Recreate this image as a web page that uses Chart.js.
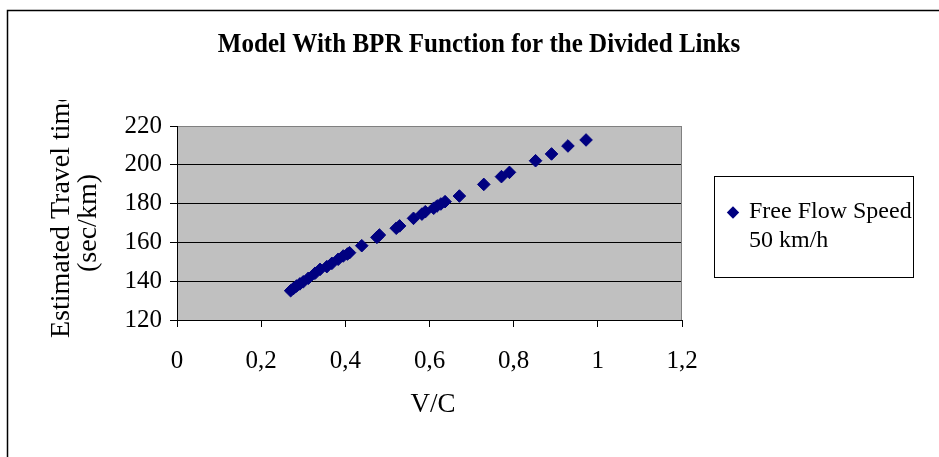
<!DOCTYPE html>
<html>
<head>
<meta charset="utf-8">
<script src="https://cdn.jsdelivr.net/npm/chart.js@4"></script>
<style>
html,body{margin:0;padding:0;background:#fff;}
canvas{display:block;}
</style>
</head>
<body>
<canvas id="c" width="939" height="457"></canvas>
<script>
const chartTitle = 'Model With BPR Function for the Divided Links';
const seriesName = ['Free Flow Speed', '50 km/h'];
const yTitle = ['Estimated Travel time', '(sec/km)'];
const xTitle = 'V/C';
const xTickLabels = ['0', '0,2', '0,4', '0,6', '0,8', '1', '1,2'];
const yTickLabels = ['120', '140', '160', '180', '200', '220'];
const vcValues = [0.270, 0.277, 0.284, 0.292, 0.300, 0.312, 0.328, 0.340, 0.356, 0.368, 0.383, 0.395, 0.405, 0.410, 0.439, 0.475, 0.481, 0.521, 0.529, 0.562, 0.582, 0.590, 0.610, 0.618, 0.627, 0.637, 0.671, 0.729, 0.771, 0.790, 0.852, 0.890, 0.929, 0.972];
const travelTimes = [135.1, 136.3, 137.5, 138.6, 139.7, 141.5, 144.1, 146.1, 147.5, 149.2, 151.3, 153.0, 154.0, 154.7, 158.3, 162.6, 163.8, 167.3, 168.5, 172.4, 174.6, 175.8, 177.6, 178.8, 179.8, 181.0, 183.9, 189.9, 193.9, 196.1, 202.1, 205.6, 209.7, 212.8];

const serif = '"Liberation Serif", "Times New Roman", serif';
const points = vcValues.map((v, i) => ({x: v, y: travelTimes[i]}));

const decor = {
  id: 'decor',
  beforeDraw(chart) {
    const {ctx, chartArea: a} = chart;
    ctx.save();
    ctx.fillStyle = '#fff';
    ctx.fillRect(0, 0, chart.width, chart.height);
    ctx.fillStyle = '#C0C0C0';
    ctx.fillRect(a.left, a.top, a.right - a.left, a.bottom - a.top);
    ctx.restore();
  },
  beforeDatasetsDraw(chart) {
    const {ctx, chartArea: a} = chart;
    ctx.save();
    ctx.strokeStyle = '#808080';
    ctx.lineWidth = 1;
    ctx.beginPath();
    ctx.moveTo(Math.round(a.right) - 0.5, a.top);
    ctx.lineTo(Math.round(a.right) - 0.5, a.bottom);
    ctx.stroke();
    ctx.restore();
  },
  afterDraw(chart) {
    const {ctx} = chart;
    ctx.save();
    // outer frame
    ctx.strokeStyle = '#000';
    ctx.lineWidth = 1.5;
    ctx.beginPath();
    ctx.moveTo(7.5, 457);
    ctx.lineTo(7.5, 10.5);
    ctx.lineTo(939, 10.5);
    ctx.stroke();
    // title (condensed bold)
    ctx.save();
    ctx.fillStyle = '#000';
    ctx.font = 'bold 28px ' + serif;
    ctx.textAlign = 'center';
    ctx.textBaseline = 'middle';
    ctx.translate(479, 45);
    ctx.scale(0.895, 1);
    ctx.fillText(chartTitle, 0, 0);
    ctx.restore();
    // x title
    ctx.fillStyle = '#000';
    ctx.textAlign = 'center';
    ctx.textBaseline = 'middle';
    ctx.font = '27px ' + serif;
    ctx.fillText(xTitle, 433, 405);
    // y title (first line clipped at top as in the original)
    ctx.save();
    ctx.beginPath();
    ctx.rect(0, 100, 170, 357);
    ctx.clip();
    ctx.translate(62, 338);
    ctx.rotate(-Math.PI / 2);
    ctx.textAlign = 'left';
    ctx.textBaseline = 'middle';
    ctx.font = '28px ' + serif;
    ctx.fillText(yTitle[0], 0, 0);
    ctx.restore();
    ctx.save();
    ctx.translate(89, 223);
    ctx.rotate(-Math.PI / 2);
    ctx.textAlign = 'center';
    ctx.textBaseline = 'middle';
    ctx.font = '28px ' + serif;
    ctx.fillText(yTitle[1], 0, 0);
    ctx.restore();
    // legend
    ctx.fillStyle = '#fff';
    ctx.fillRect(714.5, 176.5, 199, 101);
    ctx.strokeStyle = '#000';
    ctx.lineWidth = 1;
    ctx.strokeRect(714.5, 176.5, 199, 101);
    ctx.fillStyle = '#000080';
    ctx.beginPath();
    ctx.moveTo(733, 206.3); ctx.lineTo(739.2, 212.5); ctx.lineTo(733, 218.7); ctx.lineTo(726.8, 212.5); ctx.closePath();
    ctx.fill();
    ctx.fillStyle = '#000';
    ctx.font = '24px ' + serif;
    ctx.textAlign = 'left';
    ctx.textBaseline = 'middle';
    ctx.fillText(seriesName[0], 749, 212);
    ctx.fillText(seriesName[1], 749, 241);
    ctx.restore();
  }
};

new Chart(document.getElementById('c'), {
  type: 'scatter',
  data: {
    datasets: [{
      label: seriesName.join(' '),
      data: points,
      pointStyle: 'rectRot',
      pointRadius: 6.3,
      pointHoverRadius: 6.3,
      backgroundColor: '#000080',
      borderColor: '#000080',
      borderWidth: 1
    }]
  },
  options: {
    responsive: false,
    animation: false,
    events: [],
    layout: {padding: {left: 0, top: 126, right: 257, bottom: 0}},
    plugins: {legend: {display: false}, title: {display: false}, tooltip: {enabled: false}},
    scales: {
      x: {
        type: 'linear',
        min: 0, max: 1.2,
        afterFit(s) { s.height = 137; },
        afterBuildTicks(s) { s.ticks = xTickLabels.map((t, i) => ({value: i * 0.2})); },
        ticks: {
          color: '#000',
          font: {family: serif, size: 25},
          padding: 19,
          maxRotation: 0,
          autoSkip: false,
          callback: (v, i) => xTickLabels[i]
        },
        grid: {drawOnChartArea: false, drawTicks: true, tickLength: 7, tickColor: '#000'},
        border: {color: '#000', width: 1}
      },
      y: {
        type: 'linear',
        min: 120, max: 220,
        afterFit(s) { s.width = 177; },
        afterBuildTicks(s) { s.ticks = yTickLabels.map(t => ({value: Number(t)})); },
        ticks: {
          color: '#000',
          font: {family: serif, size: 25},
          padding: 8,
          autoSkip: false,
          callback: (v, i) => yTickLabels[i]
        },
        grid: {
          color: c => (c.tick && c.tick.value === 220) ? '#808080' : '#000',
          tickColor: '#000',
          tickLength: 7,
          lineWidth: 1
        },
        border: {color: '#000', width: 1}
      }
    }
  },
  plugins: [decor]
});
</script>
</body>
</html>
